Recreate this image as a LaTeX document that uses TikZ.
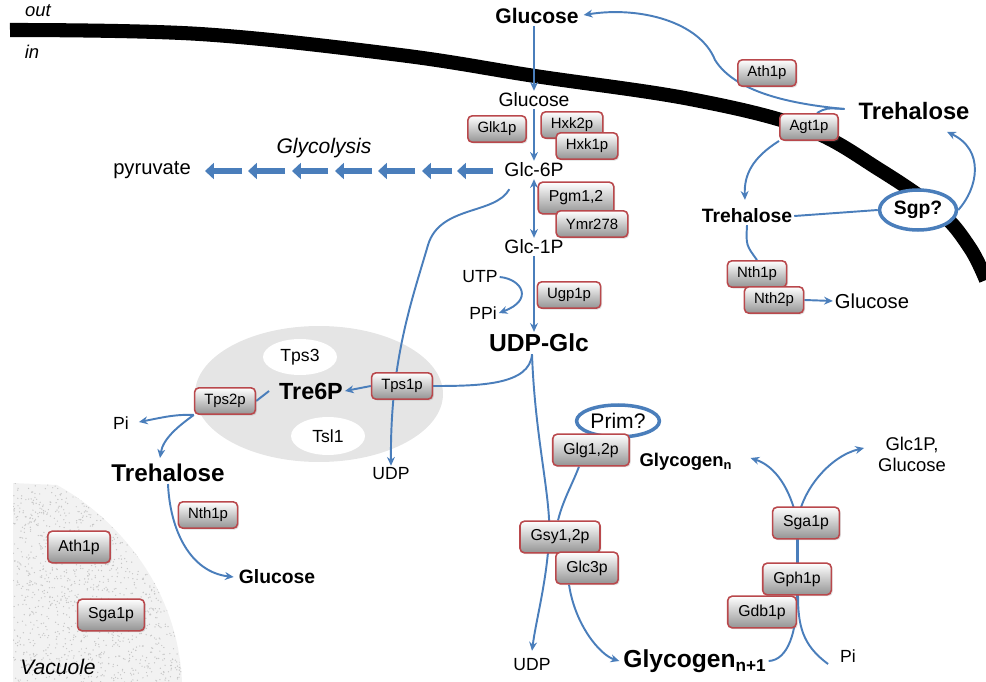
\documentclass[tikz,border=0pt]{standalone}
\usepackage{fontspec}
\setmainfont{Liberation Sans}
\usetikzlibrary{arrows.meta,calc,shapes.geometric,shadows}
\definecolor{flowblue}{RGB}{74,126,187}
\definecolor{enzred}{RGB}{185,72,76}
\pgfdeclarelayer{back}
\pgfdeclarelayer{lines}
\pgfsetlayers{back,lines,main}
\tikzset{
  metlbl/.style={font=\fontsize{11}{13}\selectfont, inner sep=1pt},
  smlbl/.style={font=\fontsize{10}{12}\selectfont, inner sep=1pt},
  boldlbl/.style={font=\bfseries\fontsize{11}{13}\selectfont, inner sep=1pt},
  biglbl/.style={font=\bfseries\fontsize{13.5}{16}\selectfont, inner sep=1pt},
  itlbl/.style={font=\itshape\fontsize{10.5}{12}\selectfont, inner sep=1pt},
  enz/.style={rectangle, rounded corners=2.5pt, draw=enzred, line width=0.9pt,
    top color=white, bottom color=black!42, font=\fontsize{8.5}{10}\selectfont,
    inner xsep=5.5pt, inner ysep=2pt, minimum height=15pt,
    drop shadow={opacity=0.25, shadow xshift=0.8pt, shadow yshift=-0.8pt}},
  bigenz/.style={enz, font=\fontsize{9}{11}\selectfont, minimum height=18pt, inner xsep=6pt},
  ovalnode/.style={ellipse, draw=flowblue, line width=2pt, fill=white, inner sep=0pt},
  link/.style={draw=flowblue, line width=1.1pt},
  flow/.style={link, -{Stealth[length=5pt,width=4.5pt]}},
  flowboth/.style={link, {Stealth[length=5pt,width=4.5pt]}-{Stealth[length=5pt,width=4.5pt]}},
  bigarrow/.style={draw=flowblue, line width=3.8pt, -{Triangle[length=5pt,width=9pt]}}
}

\begin{document}
\begin{tikzpicture}[x=0.02cm,y=-0.02cm]
\useasboundingbox (0,0) rectangle (986,682);

\begin{pgfonlayer}{back}
% membrane
\draw[line width=8pt] plot[smooth,tension=0.6] coordinates {(10,30) (200,34) (400,55) (535,76) (690,99) (805,128) (880,170) (940,212) (970,248) (986,280)};
% vacuole
\begin{scope}
  \clip (13,483) -- (57,485) .. controls (120,520) and (178,590) .. (182,682) -- (13,682) -- cycle;
  \fill[gray!10] (10,480) rectangle (190,682);
  \pgfmathsetseed{17}
  \foreach \i in {1,...,1500}
    \fill[gray!45] ({13+172*rnd},{483+199*rnd}) circle[radius=0.4pt];
\end{scope}
% trehalose synthase complex
\node[ellipse, fill=gray!20, minimum width=4.96cm, minimum height=2.72cm] (tpsc) at (319,394) {};
\node[ellipse, fill=white, minimum width=1.48cm, minimum height=0.72cm, smlbl] (tps3) at (300,357) {Tps3};
\node[ellipse, fill=white, minimum width=1.48cm, minimum height=0.76cm, smlbl] (tsl1) at (328,436) {Tsl1};
\end{pgfonlayer}

% metabolites
\node[itlbl] (out) at (38,11) {out};
\node[itlbl] (in) at (32,52) {in};
\node[boldlbl, font=\bfseries\fontsize{12}{14}\selectfont] (gluout) at (537,16) {Glucose};
\node[metlbl] (gluin) at (534,100) {Glucose};
\node[metlbl] (g6p) at (534,170) {Glc-6P};
\node[metlbl] (g1p) at (534,247) {Glc-1P};
\node[smlbl] (utp) at (480,277) {UTP};
\node[smlbl] (ppi) at (483,313) {PPi};
\node[biglbl, font=\bfseries\fontsize{14}{16}\selectfont] (udpg) at (539,343) {UDP-Glc};
\node[metlbl, font=\fontsize{11.5}{13}\selectfont] (pyr) at (152,170) {pyruvate};
\node[itlbl, font=\itshape\fontsize{12}{14}\selectfont] (glycol) at (324,148) {Glycolysis};
\node[biglbl] (trehtop) at (914,111) {Trehalose};
\node[boldlbl] (trehmid) at (747,216) {Trehalose};
\node[ovalnode, boldlbl, minimum width=1.54cm, minimum height=0.8cm] (sgp) at (918,210) {Sgp?};
\node[metlbl, font=\fontsize{11.5}{13}\selectfont] (glur) at (872,301) {Glucose};
\node[biglbl, font=\bfseries\fontsize{13.3}{16}\selectfont] (tre6p) at (311,391) {Tre6P};
\node[smlbl] (pil) at (121,423) {Pi};
\node[biglbl, font=\bfseries\fontsize{13.8}{16}\selectfont] (trehl) at (168,473) {Trehalose};
\node[smlbl] (udpl) at (391,474) {UDP};
\node[boldlbl] (glul) at (277,577) {Glucose};
\node[itlbl, font=\itshape\fontsize{12}{14}\selectfont] (vac) at (58,667) {Vacuole};
\node[ovalnode, metlbl, font=\fontsize{12}{14}\selectfont, minimum width=1.46cm, minimum height=0.64cm] (prim) at (618,421) {Prim?};
\node[boldlbl, font=\bfseries\fontsize{10.5}{12}\selectfont] (glyn) at (686,462) {Glycogen\textsubscript{n}};
\node[smlbl] (udpb) at (532,665) {UDP};
\node[biglbl, font=\bfseries\fontsize{14}{16}\selectfont] (glyn1) at (695,661) {Glycogen\textsubscript{n+1}};
\node[smlbl] (pir) at (848,656) {Pi};
\node[metlbl, font=\fontsize{10.5}{12}\selectfont, align=center] (glc1p) at (912,454) {Glc1P,\\Glucose};

% enzymes
\node[enz] (glk) at (497,129) {Glk1p};
\node[enz] (hxk2) at (572,125) {Hxk2p};
\node[enz] (hxk1) at (587,146) {Hxk1p};
\node[bigenz] (pgm) at (576,198) {Pgm1,2};
\node[enz] (ymr) at (592,224) {Ymr278};
\node[enz] (ugp) at (569,295) {Ugp1p};
\node[enz] (ath) at (767,73) {Ath1p};
\node[enz] (agt) at (809,127) {Agt1p};
\node[enz] (nth1r) at (757,274) {Nth1p};
\node[enz] (nth2r) at (774,300) {Nth2p};
\node[enz] (tps1) at (402,386) {Tps1p};
\node[enz] (tps2) at (225,401) {Tps2p};
\node[enz] (nth1l) at (208,515) {Nth1p};
\node[bigenz] (athv) at (79,547) {Ath1p};
\node[bigenz] (sgav) at (111,615) {Sga1p};
\node[bigenz] (glg) at (591,450) {Glg1,2p};
\node[bigenz] (gsy) at (560,537) {Gsy1,2p};
\node[bigenz] (glc3) at (587,568) {Glc3p};
\node[bigenz] (sga) at (806,523) {Sga1p};
\node[bigenz] (gdb) at (762,612) {Gdb1p};
\node[bigenz] (gph) at (797,579) {Gph1p};

\begin{pgfonlayer}{lines}
% upper glycolysis
\draw[flow] (gluin.north |- gluout.south) -- (gluin.north);
\draw[flow] (gluin) -- (g6p);
\draw[flowboth] (g6p) -- (g1p);
\draw[flow] (g1p.south) -- (g1p.south |- udpg.north);
\draw[flow] (utp.east) .. controls (522,279) and (534,300) .. (ppi.east);
\foreach \s/\e in {493/457,452/422,415/378,372/335,328/292,285/248,242/205}
  \draw[bigarrow] (\s,171) -- (\e,171);
% trehalose transport
\coordinate (tj) at ($(trehtop.west)+(-12,-2)$);
\draw[flow] (tj) .. controls (790,104) and (735,92) .. (715,60) .. controls (700,22) and (640,6) .. ($(gluout.east)+(3,-1)$);
\draw[link] (tj) .. controls (826,108) .. ($(agt.north)+(8,0)$);
\draw[flow] (agt.south west) .. controls (752,158) and (744,175) .. ($(trehmid.north)+(-2,-7)$);
\draw[link] (trehmid.east) -- (sgp.west);
\draw[flow] (sgp.east) .. controls (978,188) and (985,150) .. ($(trehtop.south)+(33,10)$);
\draw[link] (trehmid.south) .. controls (746,245) .. (nth1r.north);
\draw[flow] (nth2r.east) -- (glur.west);
% trehalose synthesis
\draw[flow] ($(g6p.south west)+(7,10)$) .. controls (495,215) and (440,205) .. (428,245) .. controls (412,300) and (390,360) .. (udpl.north);
\coordinate (udpgb) at ($(udpg.south)+(-7,0)$);
\draw[link] (udpgb) .. controls (530,385) and (480,386) .. (tps1.east);
\draw[flow] (tps1.west) -- (tre6p.east);
\draw[link] ($(tre6p.west)+(-8,0)$) -- (tps2.east);
\draw[flow] (tps2.south west) .. controls (175,414) and (160,418) .. ($(pil.east)+(8,-1)$);
\draw[flow] (tps2.south west) .. controls (180,425) and (163,438) .. ($(trehl.north)+(-8,-4)$);
\draw[flow] (trehl.south) .. controls (170,530) and (190,572) .. ($(glul.west)+(-3,0)$);
% glycogen
\draw[flow] (udpgb) .. controls (535,440) and (552,500) .. (549,540) .. controls (546,585) and (536,620) .. ($(udpb.north)+(0,-6)$);
\draw[link] ($(glg.south)+(-12,0)$) .. controls (572,485) and (563,500) .. ($(gsy.north)+(-2,0)$);
\draw[flow] ($(glc3.south)+(-18,0)$) .. controls (575,625) and (600,655) .. ($(glyn1.west)+(-2,0)$);
\coordinate (gtip) at ($(glyn.east)+(16,-4)$);
\draw[flow] (glyn1.east) .. controls (788,660) and (797,632) .. (797,595) -- (797,520) .. controls (790,488) and (775,466) .. (gtip);
\coordinate (ctip) at ($(glc1p.west)+(-12,-6)$);
\draw[flow] ($(pir.west)+(-10,8)$) .. controls (802,645) and (798,625) .. (798,595) -- (798,520) .. controls (802,490) and (830,456) .. (ctip);
\end{pgfonlayer}
\end{tikzpicture}
\end{document}
